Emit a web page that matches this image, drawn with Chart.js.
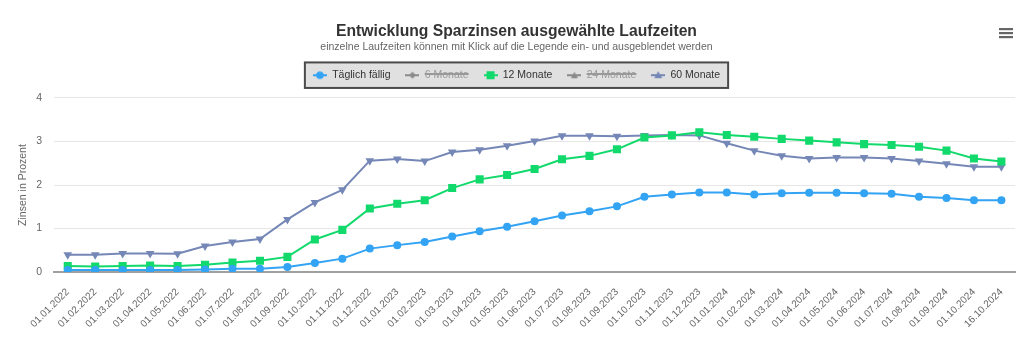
<!DOCTYPE html>
<html>
<head>
<meta charset="utf-8">
<script src="https://cdn.jsdelivr.net/npm/chart.js@4"></script>
<style>
  html, body { margin: 0; padding: 0; background: #fff; }
  #wrap { width: 1024px; height: 353px; }
</style>
</head>
<body>
<div id="wrap"><canvas id="zinsChart"></canvas></div>
<script>
const stichtage = ['01.01.2022', '01.02.2022', '01.03.2022', '01.04.2022', '01.05.2022', '01.06.2022', '01.07.2022', '01.08.2022', '01.09.2022', '01.10.2022', '01.11.2022', '01.12.2022',
    '01.01.2023', '01.02.2023', '01.03.2023', '01.04.2023', '01.05.2023', '01.06.2023', '01.07.2023', '01.08.2023', '01.09.2023', '01.10.2023', '01.11.2023', '01.12.2023',
    '01.01.2024', '01.02.2024', '01.03.2024', '01.04.2024', '01.05.2024', '01.06.2024', '01.07.2024', '01.08.2024', '01.09.2024', '01.10.2024', '16.10.2024'];

const taeglichFaellig = [0.05, 0.05, 0.05, 0.05, 0.05, 0.06, 0.08, 0.08, 0.12, 0.21, 0.31, 0.54,
    0.62, 0.69, 0.82, 0.94, 1.04, 1.17, 1.30, 1.40, 1.51, 1.73, 1.78, 1.83,
    1.83, 1.78, 1.81, 1.82, 1.82, 1.81, 1.80, 1.73, 1.70, 1.65, 1.65];

const monate12 = [0.14, 0.13, 0.14, 0.15, 0.14, 0.17, 0.22, 0.26, 0.35, 0.75, 0.97, 1.46,
    1.57, 1.65, 1.93, 2.13, 2.23, 2.37, 2.59, 2.67, 2.82, 3.09, 3.14, 3.21,
    3.15, 3.11, 3.06, 3.02, 2.98, 2.94, 2.92, 2.88, 2.79, 2.61, 2.54];

const monate60 = [0.40, 0.40, 0.43, 0.43, 0.42, 0.60, 0.69, 0.76, 1.21, 1.60, 1.89, 2.56,
    2.60, 2.55, 2.76, 2.81, 2.90, 3.01, 3.13, 3.13, 3.12, 3.14, 3.15, 3.14,
    2.96, 2.79, 2.67, 2.61, 2.63, 2.63, 2.61, 2.55, 2.49, 2.42, 2.42];

// ausgeblendete Reihen (im Bild nicht sichtbar)
const monate6 = [];
const monate24 = [];

const yTicks = [0, 1, 2, 3, 4];

const fontFamily = '"Liberation Sans", Arial, sans-serif';

// kleines Symbol fuer die Legende: Linie mit Marker
function legendIcon(color, marker) {
    const c = document.createElement('canvas');
    c.width = 14;
    c.height = 10;
    const g = c.getContext('2d');
    g.strokeStyle = color;
    g.fillStyle = color;
    g.lineWidth = 2;
    g.beginPath();
    g.moveTo(0, 5);
    g.lineTo(14, 5);
    g.stroke();
    g.beginPath();
    if (marker === 'circle') {
        g.arc(7, 5, 3.8, 0, Math.PI * 2);
    } else if (marker === 'rect') {
        g.rect(3, 1, 8, 8);
    } else if (marker === 'diamond') {
        g.moveTo(7, 1.5); g.lineTo(10.5, 5); g.lineTo(7, 8.5); g.lineTo(3.5, 5);
    } else if (marker === 'up') {
        g.moveTo(7, 1.5); g.lineTo(10.5, 8); g.lineTo(3.5, 8);
    } else {
        g.moveTo(3, 2); g.lineTo(11, 2); g.lineTo(7, 9);
    }
    g.closePath();
    g.fill();
    return c;
}

// Abstand zwischen Legende und Diagrammflaeche
const legendSpacer = {
    id: 'legendSpacer',
    start(chart) {
        if (!Chart.layouts) return;
        const box = {
            position: 'top', weight: 500, fullSize: true,
            options: {},
            left: 0, top: 0, right: 0, bottom: 0, width: 0, height: 0,
            isHorizontal() { return true; },
            update(maxWidth) { this.width = maxWidth; this.height = 7.5; },
            draw() {}
        };
        Chart.layouts.addBox(chart, box);
    }
};

const legendBox = {
    id: 'legendBox',
    beforeDraw(chart) {
        const boxes = chart.legend && chart.legend.legendHitBoxes;
        if (!boxes || !boxes.length) return;
        const left = Math.min(...boxes.map(b => b.left)) - 8;
        const right = Math.max(...boxes.map(b => b.left + b.width)) + 8;
        const top = Math.min(...boxes.map(b => b.top)) - 7.5;
        const bottom = Math.max(...boxes.map(b => b.top + b.height)) + 7.5;
        const ctx = chart.ctx;
        ctx.save();
        ctx.fillStyle = '#e0e0e0';
        ctx.fillRect(left, top, right - left, bottom - top);
        ctx.strokeStyle = '#4a4a4a';
        ctx.lineWidth = 2;
        ctx.strokeRect(left, top, right - left, bottom - top);
        ctx.restore();
    },
    afterDraw(chart) {
        // Menue-Symbol oben rechts
        const ctx = chart.ctx;
        ctx.save();
        ctx.fillStyle = '#666';
        [28, 32, 36].forEach(y => ctx.fillRect(999, y, 14, 2.2));
        ctx.restore();
    }
};

const ctx = document.getElementById('zinsChart').getContext('2d');
const zinsChart = new Chart(ctx, {
    type: 'line',
    data: {
        labels: stichtage,
        datasets: [{
            label: 'Täglich fällig',
            data: taeglichFaellig,
            borderColor: '#33a3f4',
            backgroundColor: '#33a3f4',
            pointStyle: 'circle',
            pointRadius: 4,
            legendIcon: legendIcon('#33a3f4', 'circle')
        }, {
            label: '6 Monate',
            data: monate6,
            hidden: true,
            borderColor: '#434348',
            backgroundColor: '#434348',
            pointStyle: 'rectRot',
            legendIcon: legendIcon('#8a8a8a', 'diamond')
        }, {
            label: '12 Monate',
            data: monate12,
            borderColor: '#12d96b',
            backgroundColor: '#12d96b',
            pointStyle: 'rect',
            pointRadius: 5.7,
            legendIcon: legendIcon('#12d96b', 'rect')
        }, {
            label: '24 Monate',
            data: monate24,
            hidden: true,
            borderColor: '#555',
            backgroundColor: '#555',
            pointStyle: 'triangle',
            legendIcon: legendIcon('#8a8a8a', 'up')
        }, {
            label: '60 Monate',
            data: monate60,
            borderColor: '#7587b6',
            backgroundColor: '#7587b6',
            pointStyle: 'triangle',
            pointRotation: 180,
            pointRadius: 5,
            legendIcon: legendIcon('#7587b6', 'down')
        }]
    },
    options: {
        responsive: true,
        maintainAspectRatio: false,
        animation: false,
        elements: {
            line: { borderWidth: 2, tension: 0 },
            point: { borderWidth: 0, hoverRadius: 5 }
        },
        layout: {
            padding: { top: 13, left: 17, right: 8, bottom: 9 }
        },
        plugins: {
            title: {
                display: true,
                text: 'Entwicklung Sparzinsen ausgewählte Laufzeiten',
                color: '#333',
                font: { family: fontFamily, size: 15.7, weight: 'bold' },
                padding: { top: 9, bottom: 0 }
            },
            subtitle: {
                display: true,
                text: 'einzelne Laufzeiten können mit Klick auf die Legende ein- und ausgeblendet werden',
                color: '#666',
                font: { family: fontFamily, size: 10.5 },
                padding: { top: 0, bottom: 1.5 }
            },
            legend: {
                position: 'top',
                labels: {
                    usePointStyle: true,
                    pointStyleWidth: 14,
                    padding: 15,
                    color: '#333',
                    font: { family: fontFamily, size: 10.5 },
                    generateLabels(chart) {
                        const items = Chart.defaults.plugins.legend.labels.generateLabels(chart);
                        items.forEach(item => {
                            const ds = chart.data.datasets[item.datasetIndex];
                            item.pointStyle = ds.legendIcon;
                            item.fontColor = item.hidden ? '#999' : '#333';
                        });
                        return items;
                    }
                }
            }
        },
        scales: {
            x: {
                offset: true,
                grid: { display: false, drawTicks: false },
                border: { display: true, color: '#a0a0a0', width: 2 },
                ticks: {
                    color: '#666',
                    font: { family: fontFamily, size: 10 },
                    maxRotation: 45,
                    minRotation: 45,
                    autoSkip: false,
                    padding: 14
                }
            },
            y: {
                min: 0,
                max: 4,
                afterBuildTicks(axis) {
                    axis.ticks = yTicks.map(v => ({ value: v }));
                },
                afterFit(axis) {
                    axis.width = 37;
                },
                grid: { color: '#e6e6e6', drawTicks: false },
                border: { display: false },
                ticks: {
                    color: '#666',
                    font: { family: fontFamily, size: 10.5 },
                    padding: 12
                },
                title: {
                    display: true,
                    text: 'Zinsen in Prozent',
                    color: '#666',
                    font: { family: fontFamily, size: 10.5 },
                    padding: { top: 0, bottom: 0 }
                }
            }
        }
    },
    plugins: [legendSpacer, legendBox]
});
</script>
</body>
</html>
